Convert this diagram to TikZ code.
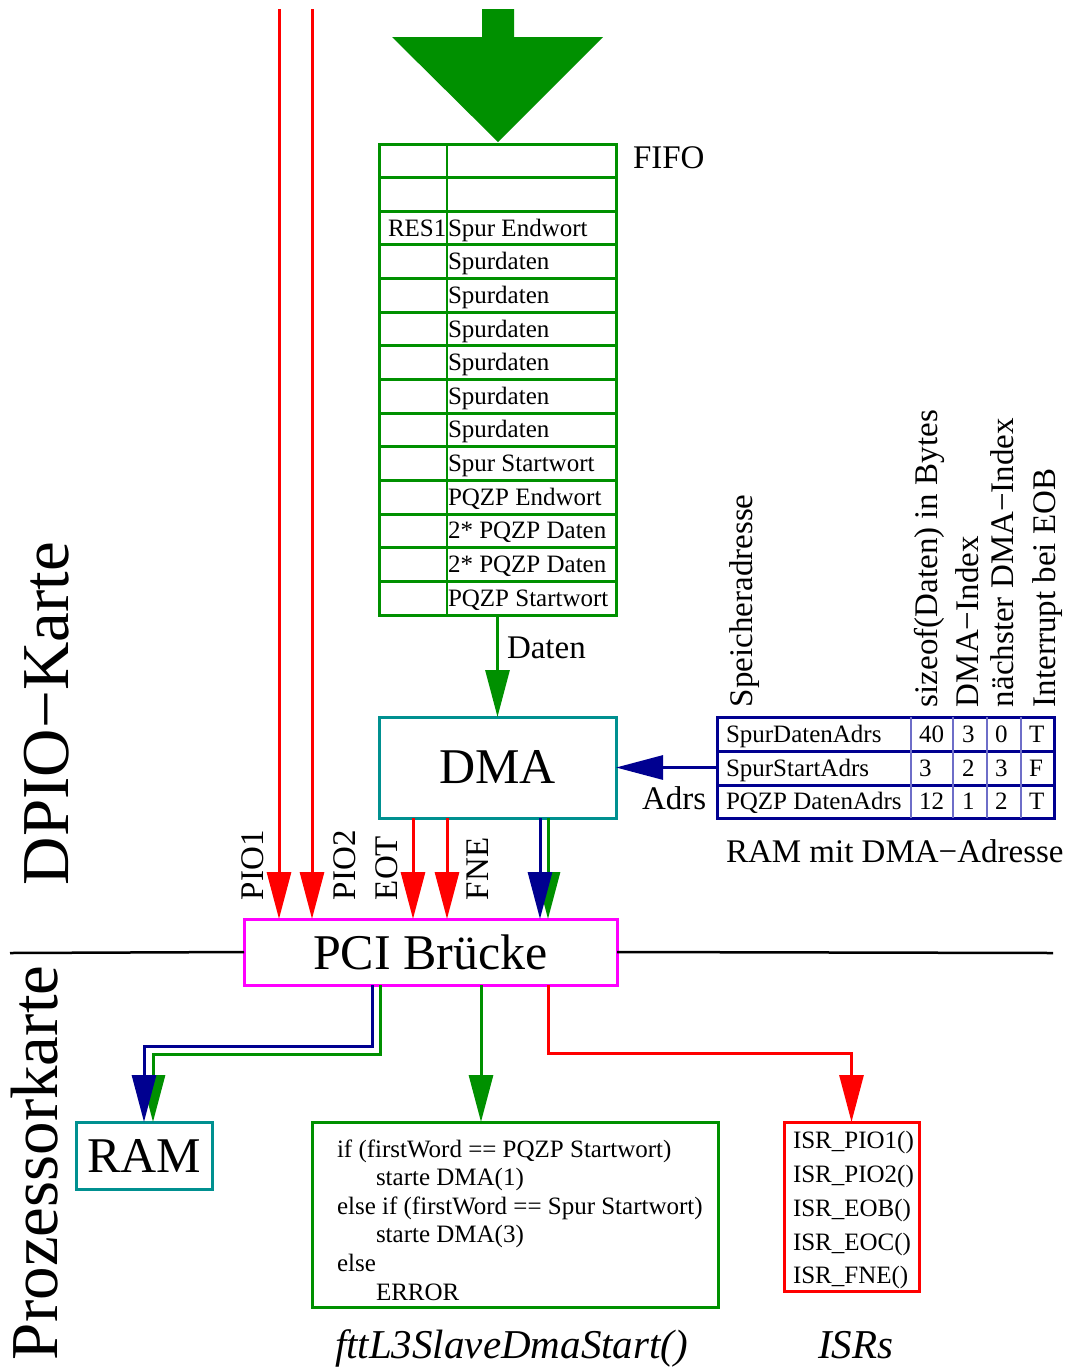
\documentclass[tikz,border=0pt]{standalone}
\usepackage{fontspec}
\setmainfont{Liberation Serif}
\usetikzlibrary{arrows.meta}
\definecolor{fgreen}{RGB}{0,144,0}
\definecolor{fblue}{RGB}{0,0,144}
\definecolor{fblueL}{RGB}{110,110,200}
\definecolor{fteal}{RGB}{0,144,144}
\definecolor{fred}{RGB}{255,0,0}
\definecolor{fmag}{RGB}{255,0,255}
\newcommand{\myfs}[1]{\fontsize{#1}{#1}\selectfont}
\begin{document}
\begin{tikzpicture}[x=1pt,y=-1pt,
  every node/.style={inner sep=0pt, outer sep=0pt},
  tipA/.style={-{Triangle[length=47pt,width=24pt]}},
  gcon/.style={draw=fgreen, line width=3pt, tipA},
  rcon/.style={draw=fred, line width=3pt, tipA},
  bcon/.style={draw=fblue, line width=3pt, tipA},
  boxG/.style={draw=fgreen, line width=3pt, fill=white},
  boxT/.style={draw=fteal, line width=3pt, fill=white},
  boxB/.style={draw=fblue, line width=3pt, fill=white},
  boxR/.style={draw=fred, line width=3pt, fill=white},
  boxM/.style={draw=fmag, line width=3pt, fill=white},
  cell/.style={anchor=base west, font=\myfs{25}},
  lab/.style={anchor=base west, font=\myfs{33}},
  vlab/.style={anchor=base west, rotate=90, font=\myfs{33}},
  big/.style={font=\myfs{50}},
  side/.style={anchor=base west, rotate=90, font=\myfs{67}},
  ital/.style={anchor=base west, font=\myfs{41}\itshape},
]
\useasboundingbox (0,0) rectangle (1070,1369);
\clip (0,0) rectangle (1070,1369);

% big green input arrow
\fill[fgreen] (482,9) -- (514,9) -- (514,37) -- (603,37) -- (498,142) -- (392,37) -- (482,37) -- cycle;

% FIFO
\node[boxG, minimum width=237pt, minimum height=471pt] (fifo) at (497.5,379.5) {};
\foreach \i in {1,...,13} {
  \draw[fgreen, line width=3pt] (379,144+\i*33.643) -- (616,144+\i*33.643);
}
\draw[fgreen, line width=1.3pt] (447,144) -- (447,615);
\node[lab] (fifolab) at (633,168) {FIFO};
\node[cell] (r3a) at (388,236.1) {RES1};
\node[cell] (r3) at (448,236.1) {Spur Endwort};
\foreach \i/\t in {4/Spurdaten,5/Spurdaten,6/Spurdaten,7/Spurdaten,8/Spurdaten,9/Spurdaten,
  10/Spur Startwort,11/PQZP Endwort,12/2* PQZP Daten,13/2* PQZP Daten,14/PQZP Startwort} {
  \node[cell] (row\i) at (448,144+\i*33.643-16.8+8) {\t};
}

% DMA
\node[boxT, minimum width=237pt, minimum height=101pt, big] (dma) at (497.5,767.5) {DMA};
\draw[gcon] (fifo.south) -- (dma.north);
\node[lab] (datenlab) at (507,658) {Daten};

% RAM table
\node[boxB, minimum width=337pt, minimum height=101pt] (ramtab) at (885.5,767.5) {};
\foreach \yy in {751,785} { \draw[fblue, line width=3pt] (717,\yy) -- (1054,\yy); }
\foreach \xx in {911,953,987,1021} { \draw[fblueL, line width=1.3pt] (\xx,717) -- (\xx,818); }
\node[cell] (t11) at (726,742) {SpurDatenAdrs};
\node[cell] (t12) at (919,742) {40};
\node[cell] (t13) at (962,742) {3};
\node[cell] (t14) at (995,742) {0};
\node[cell] (t15) at (1029,742) {T};
\node[cell] (t21) at (726,776) {SpurStartAdrs};
\node[cell] (t22) at (919,776) {3};
\node[cell] (t23) at (962,776) {2};
\node[cell] (t24) at (995,776) {3};
\node[cell] (t25) at (1029,776) {F};
\node[cell] (t31) at (726,809.5) {PQZP DatenAdrs};
\node[cell] (t32) at (919,809.5) {12};
\node[cell] (t33) at (962,809.5) {1};
\node[cell] (t34) at (995,809.5) {2};
\node[cell] (t35) at (1029,809.5) {T};
\node[vlab] (h1) at (752,707) {Speicheradresse};
\node[vlab] (h2) at (937,707) {sizeof(Daten) in Bytes};
\node[vlab] (h3) at (978,707) {DMA−Index};
\node[vlab] (h4) at (1013,707) {nächster DMA−Index};
\node[vlab] (h5) at (1055,707) {Interrupt bei EOB};
\draw[bcon] (ramtab.west) -- (dma.east);
\node[lab] (adrslab) at (642,809) {Adrs};
\node[lab] (ramlab) at (726,862) {RAM mit DMA−Adresse};

% PCI bridge
\node[boxM, minimum width=373pt, minimum height=66pt, big] (pci) at (430.5,952) {PCI Brücke};
\coordinate (hl) at (10,953);
\coordinate (hr) at (1053,953);
\draw[black, line width=2.5pt] (hl) -- (pci.west);
\draw[black, line width=2.5pt] (pci.east) -- (hr);

% signals into PCI
\coordinate (p1) at (279,9);
\coordinate (p2) at (312,9);
\draw[rcon] (p1) -- (p1 |- pci.north);
\draw[rcon] (p2) -- (p2 |- pci.north);
\coordinate (eot) at (413,0);
\coordinate (fne) at (447,0);
\coordinate (gx) at (548,0);
\coordinate (bx) at (540,0);
\draw[rcon] (eot |- dma.south) -- (eot |- pci.north);
\draw[rcon] (fne |- dma.south) -- (fne |- pci.north);
\draw[gcon] (gx |- dma.south) -- (gx |- pci.north);
\draw[bcon] (bx |- dma.south) -- (bx |- pci.north);
\node[vlab] (pio1) at (263,900) {PIO1};
\node[vlab] (pio2) at (355,900) {PIO2};
\node[vlab] (eotl) at (397,900) {EOT};
\node[vlab] (fnel) at (488,900) {FNE};

% side labels
\node[side] (dpio) at (68,885) {DPIO−Karte};
\node[side] (proz) at (57,1360) {Prozessorkarte};

% lower boxes
\node[boxT, minimum width=136pt, minimum height=67pt, big] (ram) at (144,1155.5) {RAM};
\node[boxG, minimum width=406pt, minimum height=185pt] (code) at (515,1214.5) {};
\node[boxR, minimum width=135pt, minimum height=169pt] (isr) at (851.5,1206.5) {};

\node[cell] (c1) at (337,1157) {if (firstWord == PQZP Startwort)};
\node[cell] (c2) at (376,1185.6) {starte DMA(1)};
\node[cell] (c3) at (337,1214.2) {else if (firstWord == Spur Startwort)};
\node[cell] (c4) at (376,1242.8) {starte DMA(3)};
\node[cell] (c5) at (337,1271.4) {else};
\node[cell] (c6) at (376,1300) {ERROR};

\node[cell] (i1) at (793,1148) {ISR\_PIO1()};
\node[cell] (i2) at (793,1182) {ISR\_PIO2()};
\node[cell] (i3) at (793,1216) {ISR\_EOB()};
\node[cell] (i4) at (793,1250) {ISR\_EOC()};
\node[cell] (i5) at (793,1283) {ISR\_FNE()};

\node[ital] (fname) at (335,1358) {fttL3SlaveDmaStart()};
\node[ital] (isrs) at (818,1358) {ISRs};

% outputs of PCI
\coordinate (o1) at ([xshift=-58.5pt]pci.south);
\coordinate (o2) at ([xshift=-50.5pt]pci.south);
\coordinate (o3) at ([xshift=50.5pt]pci.south);
\coordinate (o4) at ([xshift=117.5pt]pci.south);
\coordinate (ramg) at ([xshift=9pt]ram.north);
\draw[gcon] (o2) -- ++(0,69) -| (ramg);
\draw[bcon] (o1) -- ++(0,61) -| (ram.north);
\draw[gcon] (o3) -- (o3 |- code.north);
\draw[rcon] (o4) -- ++(0,68) -| (isr.north);
\end{tikzpicture}
\end{document}
